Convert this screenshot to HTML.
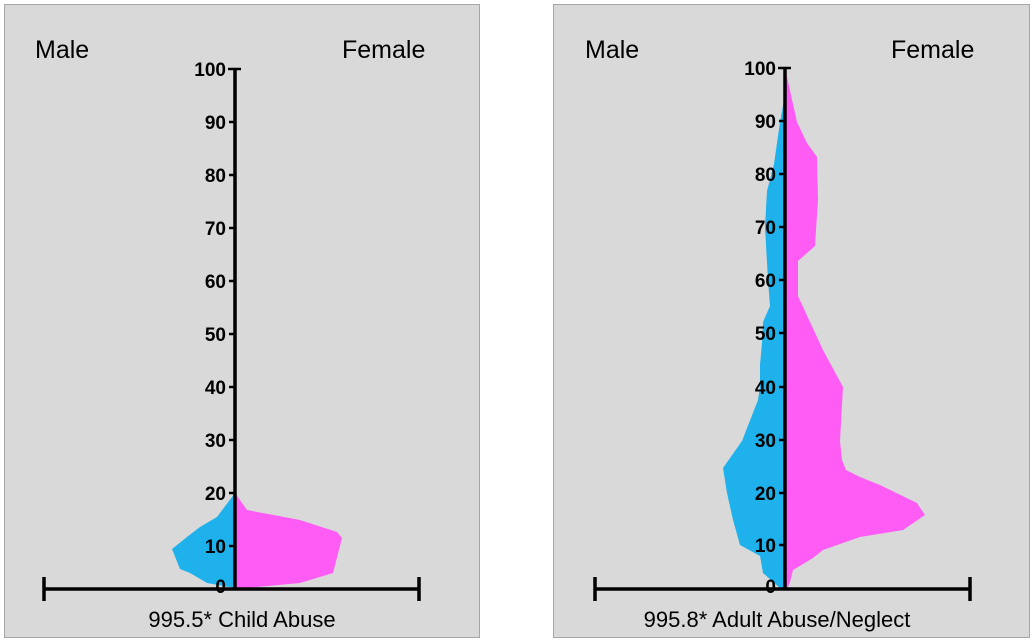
<!DOCTYPE html>
<html><head><style>
html,body{margin:0;padding:0;background:#fff;}
svg{display:block;}
text{font-family:"Liberation Sans",sans-serif;}
</style></head><body>
<svg width="1036" height="644" viewBox="0 0 1036 644">
<rect x="4.5" y="4.5" width="475" height="633" fill="#d9d9d9" stroke="#a6a6a6"/>
<rect x="553.5" y="4.5" width="476" height="633" fill="#d9d9d9" stroke="#a6a6a6"/>

<!-- Left panel -->
<polygon fill="#1eb1ec" points="235,493 217,517 200,527 187,537 172,549 180,569 190,573 207,583 235,588"/>
<polygon fill="#ff5cf5" points="235,493 247,510 300,520 337,532 342,538 333,573 300,583 235,589"/>
<g stroke="#000" stroke-width="3.5">
<line x1="235" y1="69" x2="235" y2="589"/>
<line x1="44" y1="589" x2="419" y2="589"/>
<line x1="44" y1="577" x2="44" y2="601"/>
<line x1="419" y1="577" x2="419" y2="601"/>
</g>
<g stroke="#000" stroke-width="2.5">
<line x1="228" y1="69" x2="241" y2="69"/>
<line x1="229" y1="122" x2="235" y2="122"/><line x1="229" y1="175" x2="235" y2="175"/>
<line x1="229" y1="228" x2="235" y2="228"/><line x1="229" y1="281" x2="235" y2="281"/>
<line x1="229" y1="334" x2="235" y2="334"/><line x1="229" y1="387" x2="235" y2="387"/>
<line x1="229" y1="440" x2="235" y2="440"/><line x1="229" y1="493" x2="235" y2="493"/>
<line x1="229" y1="546" x2="235" y2="546"/>
</g>
<g font-weight="bold" font-size="19" text-anchor="end">
<text x="226" y="76">100</text><text x="226" y="129">90</text><text x="226" y="182">80</text>
<text x="226" y="235">70</text><text x="226" y="288">60</text><text x="226" y="341">50</text>
<text x="226" y="394">40</text><text x="226" y="447">30</text><text x="226" y="500">20</text>
<text x="226" y="553">10</text><text x="226" y="593">0</text>
</g>
<text x="35" y="58" font-size="25">Male</text>
<text x="342" y="58" font-size="25">Female</text>
<text x="242" y="627" font-size="22" text-anchor="middle">995.5* Child Abuse</text>

<!-- Right panel -->
<polygon fill="#1eb1ec" points="785,95 780,122 774,164 767,191 765,227 768,280 770,306 763,322 762,343 760,365 760,387 758,400 742,441 723,468 727,493 733,520 740,545 760,556 763,573 780,588 785,588"/>
<polygon fill="#ff5cf5" points="785,68 797,122 807,143 817,157 818,200 815,246 798,261 798,296 823,350 843,387 840,441 842,460 846,470 860,477 880,485 917,503 925,515 903,530 860,537 823,550 813,558 793,570 790,582 787,589 785,589"/>
<g stroke="#000" stroke-width="3.5">
<line x1="785" y1="67" x2="785" y2="589"/>
<line x1="595" y1="589" x2="970" y2="589"/>
<line x1="595" y1="577" x2="595" y2="601"/>
<line x1="970" y1="577" x2="970" y2="601"/>
</g>
<g stroke="#000" stroke-width="2.5">
<line x1="778" y1="68" x2="791" y2="68"/>
<line x1="779" y1="121" x2="785" y2="121"/><line x1="779" y1="174" x2="785" y2="174"/>
<line x1="779" y1="227" x2="785" y2="227"/><line x1="779" y1="280" x2="785" y2="280"/>
<line x1="779" y1="333" x2="785" y2="333"/><line x1="779" y1="387" x2="785" y2="387"/>
<line x1="779" y1="440" x2="785" y2="440"/><line x1="779" y1="493" x2="785" y2="493"/>
<line x1="779" y1="545" x2="785" y2="545"/>
</g>
<g font-weight="bold" font-size="19" text-anchor="end">
<text x="776" y="75">100</text><text x="776" y="128">90</text><text x="776" y="181">80</text>
<text x="776" y="234">70</text><text x="776" y="287">60</text><text x="776" y="340">50</text>
<text x="776" y="394">40</text><text x="776" y="447">30</text><text x="776" y="500">20</text>
<text x="776" y="552">10</text><text x="776" y="593">0</text>
</g>
<text x="585" y="58" font-size="25">Male</text>
<text x="891" y="58" font-size="25">Female</text>
<text x="777" y="627" font-size="22" text-anchor="middle">995.8* Adult Abuse/Neglect</text>
</svg>
</body></html>
